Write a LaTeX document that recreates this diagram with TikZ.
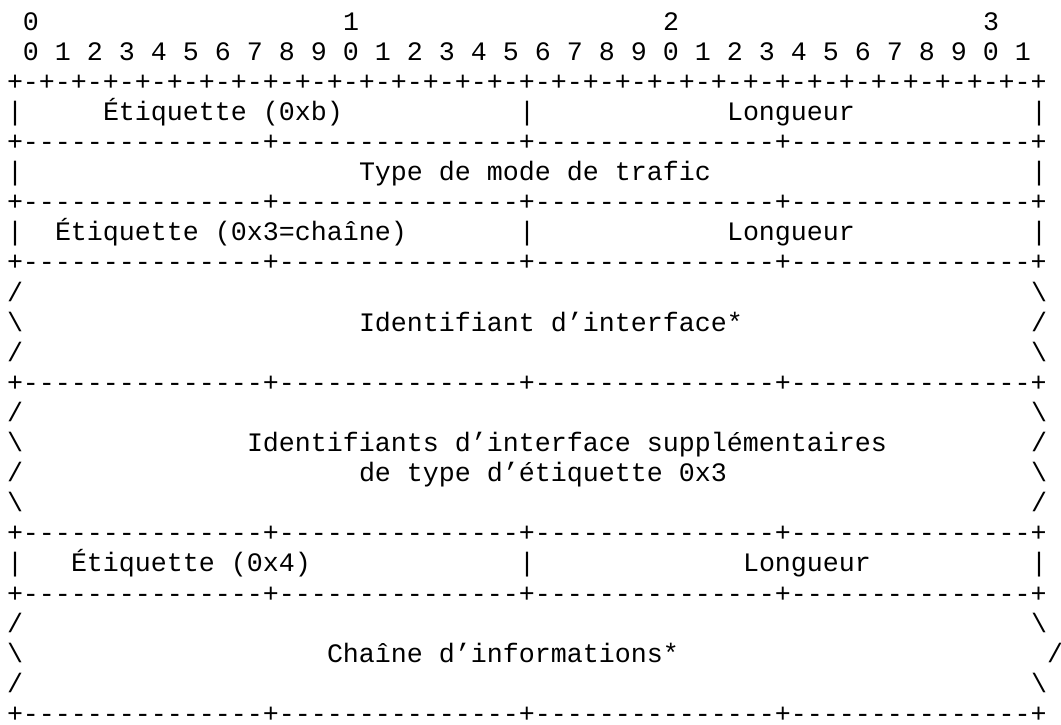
\documentclass[tikz,border=0pt]{standalone}
\usepackage{fontspec}
\setmonofont{Liberation Mono}
\usepackage{tikz}
\tikzset{
  % Base text, one cell = 8pt
  TX/.style={anchor=base west,inner sep=0pt,outer sep=0pt,
             font=\ttfamily\fontsize{13.33pt}{15.05pt}\selectfont,text=black}
}

\begin{document}
\begin{tikzpicture}[x=8pt,y=-15.05pt]
  % Column = character cell, row = text line.
  \useasboundingbox (-3.5pt,0pt) rectangle (527pt,-362pt);
  % bit ruler
  \node[TX] (tZ) at (1,1)  {0};
  \node[TX] (tA) at (21,1) {1};
  \node[TX] (tB) at (41,1) {2};
  \node[TX] (tC) at (61,1) {3};
  \node[TX] (bits) at (1,2)
    {0 1 2 3 4 5 6 7 8 9 0 1 2 3 4 5 6 7 8 9 0 1 2 3 4 5 6 7 8 9 0 1};
  \node[TX] (top) at (0,3)
    {+-+-+-+-+-+-+-+-+-+-+-+-+-+-+-+-+-+-+-+-+-+-+-+-+-+-+-+-+-+-+-+-+};
  % tag 0xb
  \node[TX] (bBl)  at (0,4)  {|};
  \node[TX] (tagB) at (6,4)  {Étiquette (0xb)};
  \node[TX] (bBm)  at (32,4) {|};
  \node[TX] (lenB) at (45,4) {Longueur};
  \node[TX] (bBr)  at (64,4) {|};
  \node[TX] (rA) at (0,5)
    {+---------------+---------------+---------------+---------------+};
  \node[TX] (bMl)  at (0,6)  {|};
  \node[TX] (mode) at (22,6) {Type de mode de trafic};
  \node[TX] (bMr)  at (64,6) {|};
  \node[TX] (rB) at (0,7)
    {+---------------+---------------+---------------+---------------+};
  % tag 0x3
  \node[TX] (bSl)  at (0,8)  {|};
  \node[TX] (tagS) at (3,8)  {Étiquette (0x3=chaîne)};
  \node[TX] (bSm)  at (32,8) {|};
  \node[TX] (lenS) at (45,8) {Longueur};
  \node[TX] (bSr)  at (64,8) {|};
  \node[TX] (rC) at (0,9)
    {+---------------+---------------+---------------+---------------+};
  \node[TX] (sAl) at (0,10)  {/};
  \node[TX] (sAr) at (64,10) {\textbackslash};
  \node[TX] (sBl) at (0,11)  {\textbackslash};
  \node[TX] (ifid) at (22,11) {Identifiant d’interface*};
  \node[TX] (sBr) at (64,11) {/};
  \node[TX] (sCl) at (0,12)  {/};
  \node[TX] (sCr) at (64,12) {\textbackslash};
  \node[TX] (rD) at (0,13)
    {+---------------+---------------+---------------+---------------+};
  \node[TX] (sDl) at (0,14)  {/};
  \node[TX] (sDr) at (64,14) {\textbackslash};
  \node[TX] (sEl) at (0,15)  {\textbackslash};
  \node[TX] (ifadd) at (15,15) {Identifiants d’interface supplémentaires};
  \node[TX] (sEr) at (64,15) {/};
  \node[TX] (sFl) at (0,16)  {/};
  \node[TX] (iftype) at (22,16) {de type d’étiquette 0x3};
  \node[TX] (sFr) at (64,16) {\textbackslash};
  \node[TX] (sGl) at (0,17)  {\textbackslash};
  \node[TX] (sGr) at (64,17) {/};
  \node[TX] (rE) at (0,18)
    {+---------------+---------------+---------------+---------------+};
  % tag 0x4
  \node[TX] (bFl)  at (0,19)  {|};
  \node[TX] (tagF) at (4,19)  {Étiquette (0x4)};
  \node[TX] (bFm)  at (32,19) {|};
  \node[TX] (lenF) at (46,19) {Longueur};
  \node[TX] (bFr)  at (64,19) {|};
  \node[TX] (rF) at (0,20)
    {+---------------+---------------+---------------+---------------+};
  \node[TX] (sHl) at (0,21)  {/};
  \node[TX] (sHr) at (64,21) {\textbackslash};
  \node[TX] (sIl) at (0,22)  {\textbackslash};
  \node[TX] (info) at (20,22) {Chaîne d’informations*};
  \node[TX] (sIr) at (65,22) {/};
  \node[TX] (sJl) at (0,23)  {/};
  \node[TX] (sJr) at (64,23) {\textbackslash};
  \node[TX] (rG) at (0,24)
    {+---------------+---------------+---------------+---------------+};
\end{tikzpicture}
\end{document}
